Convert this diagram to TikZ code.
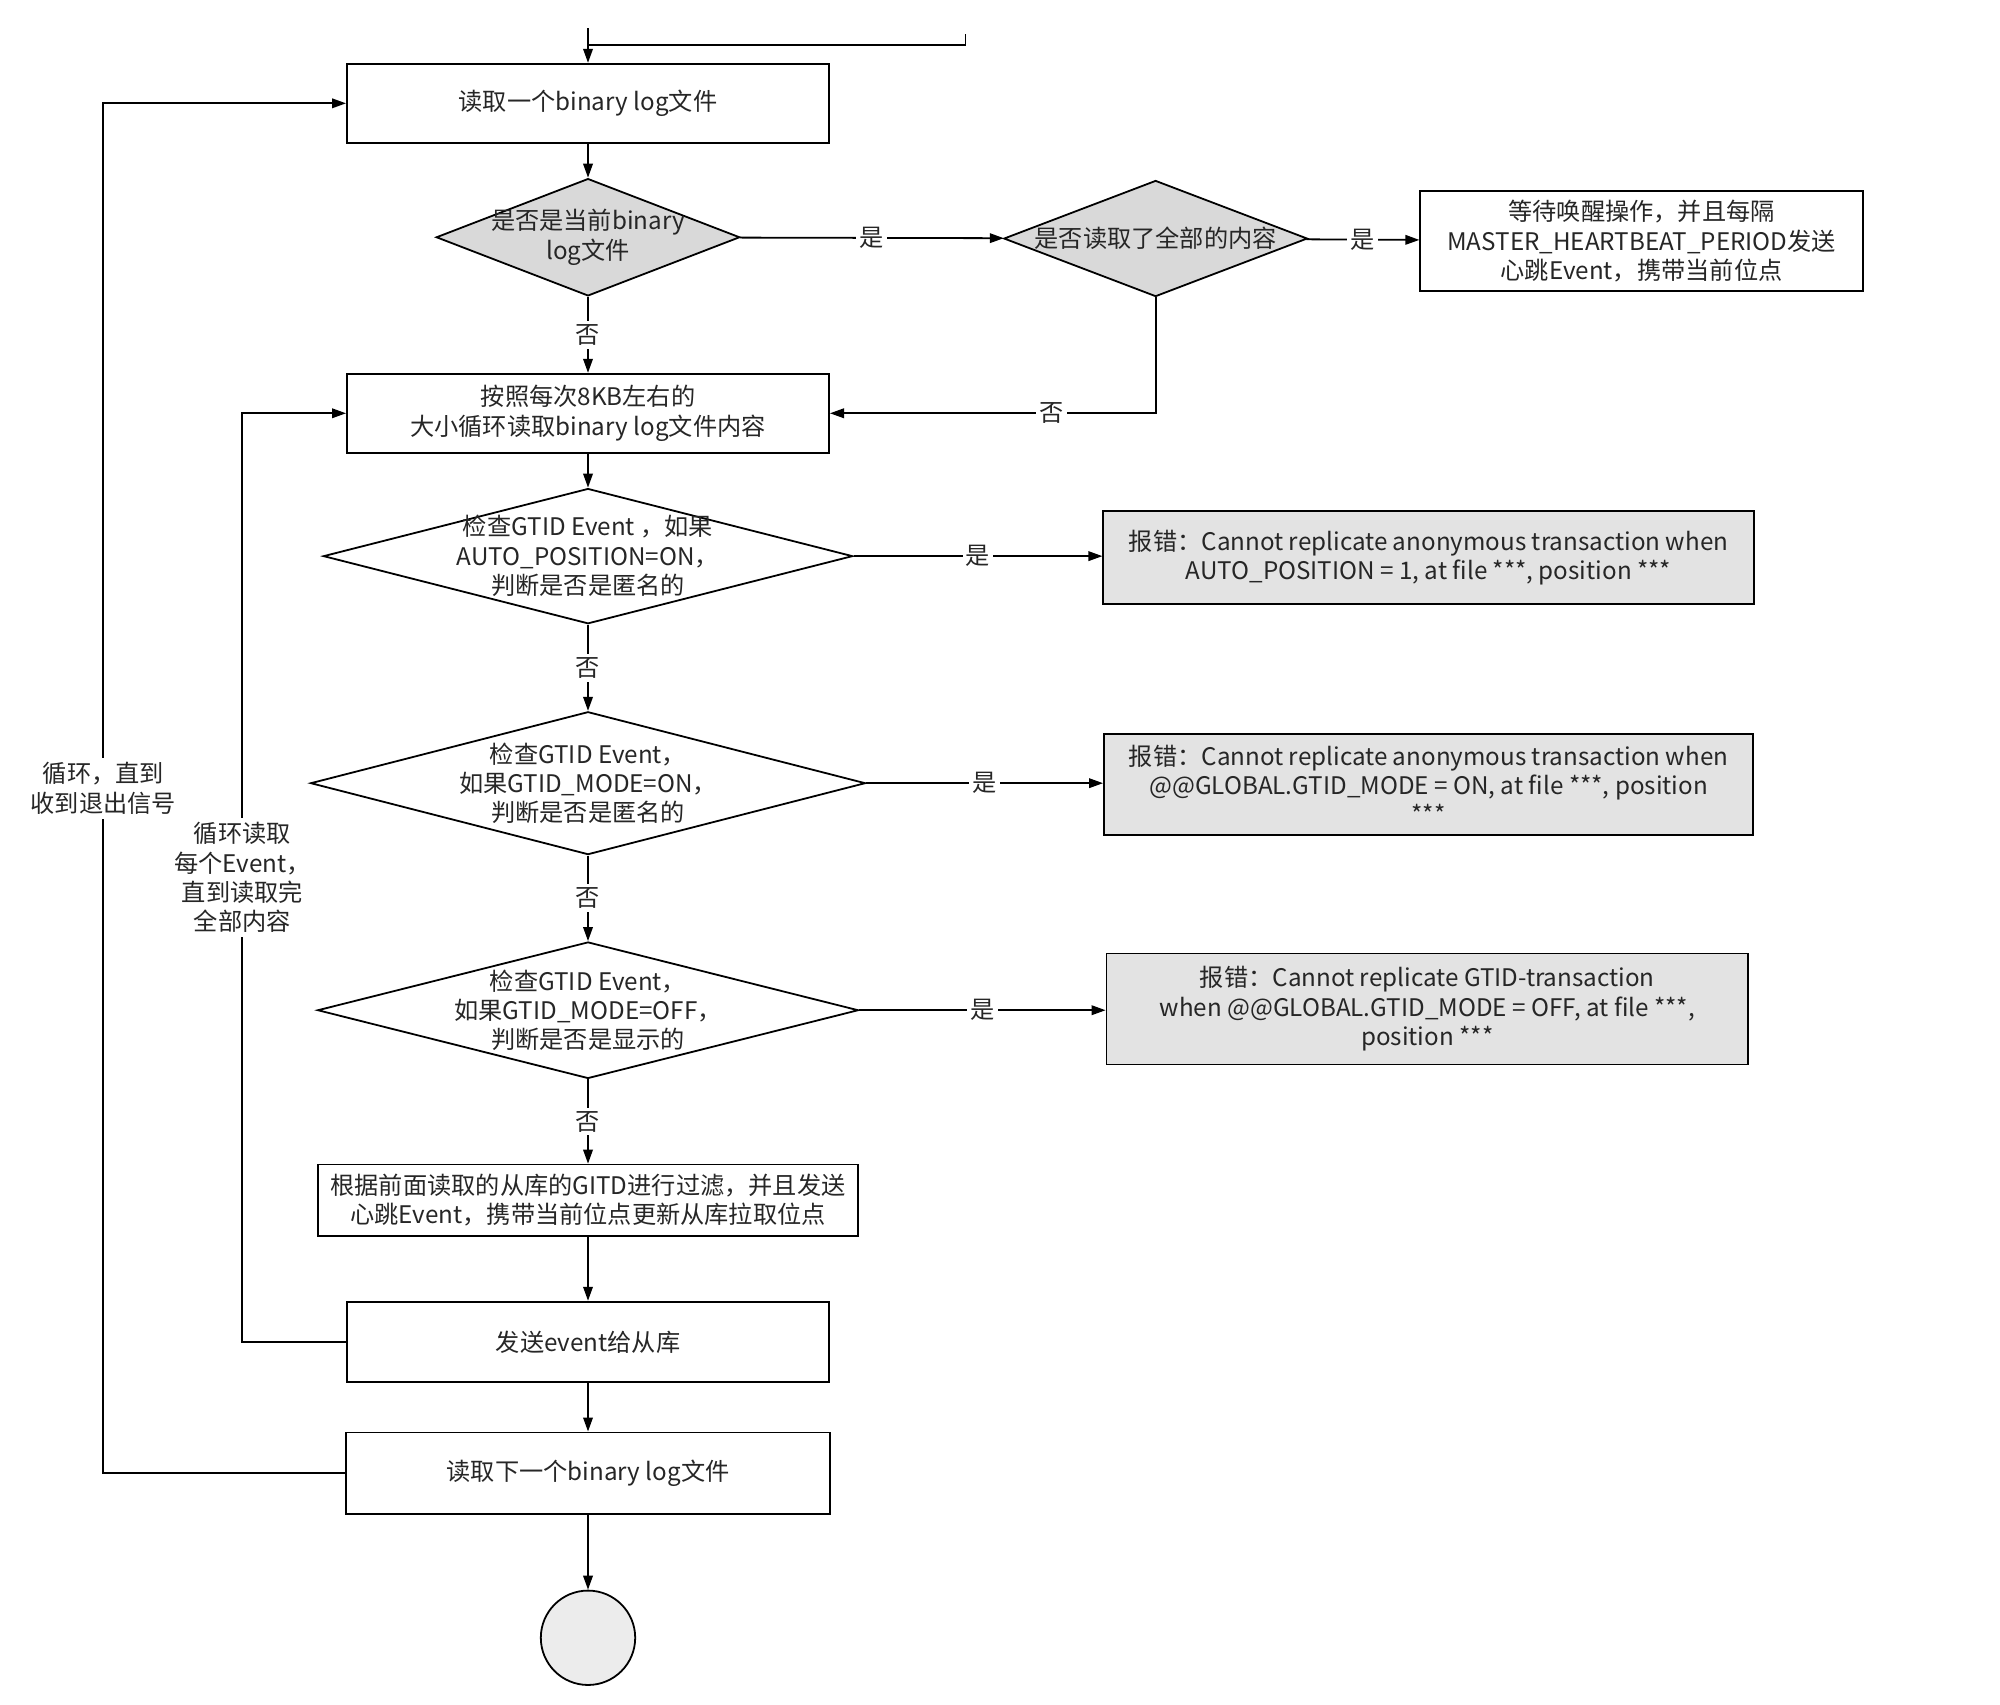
\documentclass[tikz,border=0pt]{standalone}
\usepackage{fontspec}
\setmainfont{Noto Sans CJK SC}
\usetikzlibrary{shapes.geometric,arrows.meta}
\begin{document}
\begin{tikzpicture}[x=0.2mm,y=-0.2mm,
  every node/.style={font=\fontsize{10.8pt}{13.1pt}\selectfont, text=black!85},
  box/.style={draw, rectangle, inner sep=0pt, align=center, line width=0.8pt},
  dia/.style={draw, diamond, inner sep=0pt, line width=0.8pt},
  err/.style={box, fill=gray!22},
  lbl/.style={align=center, inner sep=0pt},
  yn/.style={fill=white, inner sep=1.5pt},
  conn/.style={line width=0.8pt, -{Triangle[length=2.2mm,width=1.5mm]}},
  plain/.style={line width=0.8pt}]
\path[use as bounding box] (0,0) rectangle (1568,1336);

% nodes
\node[box, minimum width=75.6mm, minimum height=12.4mm] (b1) at (461,81) {读取一个binary log文件};
\node[dia, fill=gray!30, minimum width=47.6mm, minimum height=18.4mm,
  label={[lbl]center:{是否是当前binary\\log文件}}] (d1) at (461,186) {};
\node[dia, fill=gray!30, minimum width=47.6mm, minimum height=18.2mm,
  label={[lbl]center:{是否读取了全部的内容}}] (d2) at (906,187) {};
\node[box, minimum width=69.4mm, minimum height=15.6mm] (w) at (1287,189)
  {等待唤醒操作，并且每隔\\MASTER\_HEARTBEAT\_PERIOD发送\\心跳Event，携带当前位点};
\node[box, minimum width=75.6mm, minimum height=12.4mm] (b2) at (461,324)
  {按照每次8KB左右的\\大小循环读取binary log文件内容};
\node[dia, minimum width=83mm, minimum height=21.2mm,
  label={[lbl]center:{检查GTID Event ，如果\\AUTO\_POSITION=ON，\\判断是否是匿名的}}] (d3) at (461,436) {};
\node[err, minimum width=102mm, minimum height=14.6mm] (e1) at (1120,437)
  {报错：Cannot replicate anonymous transaction when\\AUTO\_POSITION = 1, at file ***, position ***};
\node[dia, minimum width=87mm, minimum height=22.4mm,
  label={[lbl]center:{检查GTID Event，\\如果GTID\_MODE=ON，\\判断是否是匿名的}}] (d4) at (461,614) {};
\node[err, minimum width=101.8mm, minimum height=15.8mm] (e2) at (1120,615)
  {报错：Cannot replicate anonymous transaction when\\@@GLOBAL.GTID\_MODE = ON, at file ***, position\\***};
\node[dia, minimum width=84.8mm, minimum height=21.4mm,
  label={[lbl]center:{检查GTID Event，\\如果GTID\_MODE=OFF，\\判断是否是显示的}}] (d5) at (461,792) {};
\node[err, minimum width=100.6mm, minimum height=17.4mm] (e3) at (1119,791)
  {报错：Cannot replicate GTID-transaction\\when @@GLOBAL.GTID\_MODE = OFF, at file ***,\\position ***};
\node[box, minimum width=84.6mm, minimum height=11.2mm] (bf) at (461,941)
  {根据前面读取的从库的GITD进行过滤，并且发送\\心跳Event，携带当前位点更新从库拉取位点};
\node[box, minimum width=75.6mm, minimum height=12.6mm] (bs) at (461,1052) {发送event给从库};
\node[box, minimum width=76mm, minimum height=12.8mm] (bn) at (461,1155) {读取下一个binary log文件};
\node[draw, circle, line width=0.8pt, fill=gray!15, minimum size=14.8mm, inner sep=0pt] (end) at (461,1284) {};

% top entry
\coordinate (tin) at (461,22);
\coordinate (tj) at (461,35);
\coordinate (tr) at (757,27);
\draw[plain] (tr) |- (tj);
\draw[conn] (tin) -- (b1.north);

% connectors
\draw[conn] (b1) -- (d1);
\draw[conn] (d1) -- node[yn]{是} (d2);
\draw[conn] (d2) -- node[yn]{是} (w);
\draw[conn] (d1) -- node[yn]{否} (b2);
\draw[conn] (d2.south) |- node[yn, pos=0.66]{否} (b2.east);
\draw[conn] (b2) -- (d3);
\draw[conn] (d3.east) -- node[yn]{是} (d3.east -| e1.west);
\draw[conn] (d3) -- node[yn]{否} (d4);
\draw[conn] (d4.east) -- node[yn]{是} (d4.east -| e2.west);
\draw[conn] (d4) -- node[yn]{否} (d5);
\draw[conn] (d5.east) -- node[yn]{是} (d5.east -| e3.west);
\draw[conn] (d5) -- node[yn]{否} (bf);
\draw[conn] (bf) -- (bs);
\draw[conn] (bs) -- (bn);
\draw[conn] (bn) -- (end);

% loops
\coordinate (lo) at (81,0);
\coordinate (li) at (190,0);
\draw[conn] (bn.west) -- (bn.west -| lo) -- node[lbl, fill=white, inner ysep=2pt]{循环，直到\\收到退出信号} (b1.west -| lo) -- (b1.west);
\draw[conn] (bs.west) -- (bs.west -| li) -- node[lbl, fill=white, inner ysep=2pt]{循环读取\\每个Event，\\直到读取完\\全部内容} (b2.west -| li) -- (b2.west);
\end{tikzpicture}
\end{document}
